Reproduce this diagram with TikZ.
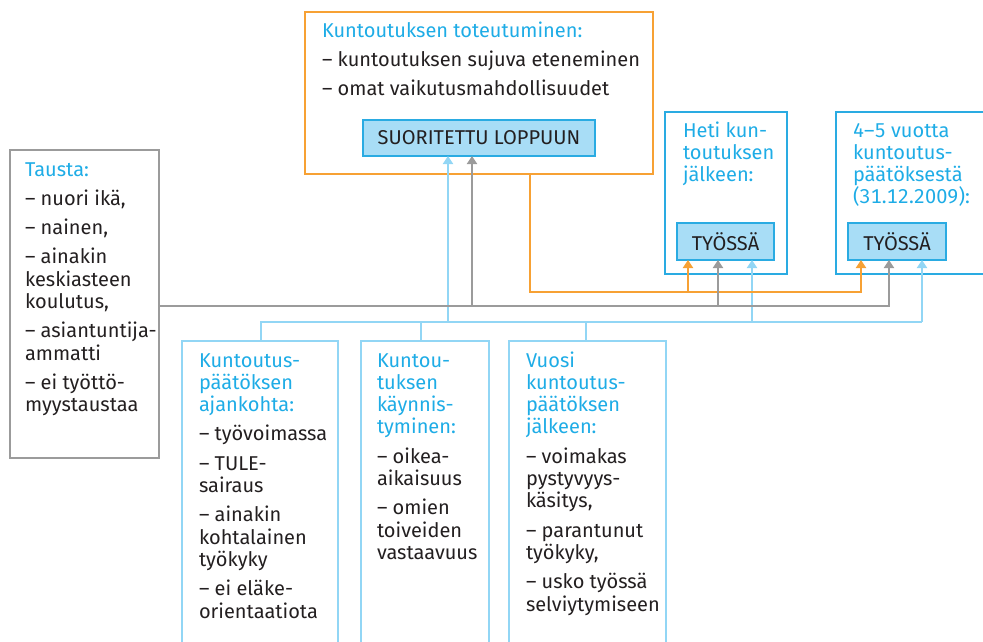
\documentclass[tikz,border=0pt]{standalone}
\usepackage{fontspec}
\setmainfont{Fira Sans}[Numbers={Lining,Monospaced}]
\usetikzlibrary{arrows.meta}
\definecolor{cyantext}{HTML}{1EACE6}
\definecolor{boxblue}{HTML}{2AABE2}
\definecolor{lightline}{HTML}{92D6F5}
\definecolor{fillblue}{HTML}{A8DDF6}
\definecolor{orangeline}{HTML}{F7A134}
\definecolor{greyline}{HTML}{9B9B9B}
\definecolor{textdark}{HTML}{231F20}
\newcommand{\fl}{\rule{0pt}{17pt}}
\newcommand{\hd}[1]{\textcolor{cyantext}{#1}}
\begin{document}
\begin{tikzpicture}[x=1pt,y=-1pt,
  frame/.style={draw, line width=2pt, inner sep=0pt, outer sep=0pt, anchor=north west},
  greyframe/.style={frame, draw=greyline},
  orangeframe/.style={frame, draw=orangeline},
  blueframe/.style={frame, draw=boxblue},
  lightframe/.style={frame, draw=lightline},
  statebox/.style={draw=boxblue, fill=fillblue, line width=1.6pt, inner sep=0pt, outer sep=0pt,
     anchor=north west, font=\fontsize{20}{22.3}\selectfont, text=textdark},
  txt/.style={anchor=north west, inner sep=0pt, outer sep=0pt, align=left,
     font=\fontsize{20}{22.3}\selectfont, text=textdark},
  tip/.style={-{Triangle[width=10pt,length=8pt]}},
  greyc/.style={draw=greyline, line width=2.4pt},
  lbc/.style={draw=lightline, line width=2pt},
  orc/.style={draw=orangeline, line width=2pt}
]
\useasboundingbox (0,0) rectangle (983,642);
\clip (0,0) rectangle (983,642);

% boxes
\node[greyframe, minimum width=149pt, minimum height=308pt] (tausta) at (10,150) {};
\node[orangeframe, minimum width=348pt, minimum height=162pt] (ob) at (305,12) {};
\node[statebox, minimum width=232pt, minimum height=36pt] (suor) at (363,120) {\raisebox{-1pt}{SUORITETTU LOPPUUN}};
\node[blueframe, minimum width=122pt, minimum height=162pt] (heti) at (665,112) {};
\node[blueframe, minimum width=170pt, minimum height=162pt] (vuotta) at (836,112) {};
\node[statebox, minimum width=97pt, minimum height=37pt] (w1) at (677,223) {\raisebox{-1pt}{TYÖSSÄ}};
\node[statebox, minimum width=98pt, minimum height=37pt] (w2) at (848,223) {\raisebox{-1pt}{TYÖSSÄ}};
\node[lightframe, minimum width=156pt, minimum height=320pt] (c1) at (182,341) {};
\node[lightframe, minimum width=128pt, minimum height=320pt] (c2) at (361,341) {};
\node[lightframe, minimum width=157pt, minimum height=320pt] (c3) at (509,341) {};

% texts
\node[txt] (ttausta) at (25,159) {\fl\hd{Tausta:}\\[7pt]
 – nuori ikä,\\[7pt]
 – nainen,\\[7pt]
 – ainakin\\keskiasteen\\koulutus,\\[7pt]
 – asiantuntija-\\ammatti\\[7pt]
 – ei työttö-\\myystaustaa};
\node[txt] (tob) at (322,20) {\fl\hd{Kuntoutuksen toteutuminen:}\\[7pt]
 – kuntoutuksen sujuva eteneminen\\[7pt]
 – omat vaikutusmahdollisuudet};
\node[txt, text=cyantext] (theti) at (683,120) {\fl Heti kun-\\toutuksen\\jälkeen:};
\node[txt, text=cyantext] (tvuotta) at (853,120) {\fl 4–5 vuotta\\kuntoutus-\\päätöksestä\\(31.12.2009):};
\node[txt] (tc1) at (199,350) {\fl\hd{Kuntoutus-}\\\hd{päätöksen}\\\hd{ajankohta:}\\[7pt]
 – työvoimassa\\[7pt]
 – TULE-\\sairaus\\[7pt]
 – ainakin\\kohtalainen\\työkyky\\[7pt]
 – ei eläke-\\orientaatiota};
\node[txt] (tc2) at (377,350) {\fl\hd{Kuntou-}\\\hd{tuksen}\\\hd{käynnis-}\\\hd{tyminen:}\\[7pt]
 – oikea-\\aikaisuus\\[7pt]
 – omien\\toiveiden\\vastaavuus};
\node[txt] (tc3) at (526,350) {\fl\hd{Vuosi}\\\hd{kuntoutus-}\\\hd{päätöksen}\\\hd{jälkeen:}\\[7pt]
 – voimakas\\pystyvyys-\\käsitys,\\[7pt]
 – parantunut\\työkyky,\\[7pt]
 – usko työssä\\selviytymiseen};

% junction coordinates
\coordinate (o0) at (530,292);
\coordinate (o1) at (688,292);
\coordinate (o2) at (861,292);
\coordinate (g1) at (472,306);
\coordinate (g2) at (718,306);
\coordinate (g3) at (889,306);
\coordinate (b0) at (261,322);
\coordinate (b1) at (421,322);
\coordinate (b2) at (448,322);
\coordinate (b3) at (586,322);
\coordinate (b4) at (752,322);
\coordinate (b5) at (922,322);

% light blue connectors
\draw[lbc] (c1.north -| b0) -- (b0) -- (b5);
\draw[lbc] (b1) -- (c2.north -| b1);
\draw[lbc] (b3) -- (c3.north -| b3);
\draw[lbc, tip] (b2) -- (suor.south -| b2);
\draw[lbc, tip] (b4) -- (w1.south -| b4);
\draw[lbc, tip] (b5) -- (w2.south -| b5);

% orange connectors
\draw[orc, tip] (ob.south -| o0) -- (o0) -- (o2) -- (w2.south -| o2);
\draw[orc, tip] (o1) -- (w1.south -| o1);

% grey connectors
\draw[greyc, tip] (tausta.east |- g1) -- (g3) -- (w2.south -| g3);
\draw[greyc, tip] (g1) -- (suor.south -| g1);
\draw[greyc, tip] (g2) -- (w1.south -| g2);
\end{tikzpicture}
\end{document}
